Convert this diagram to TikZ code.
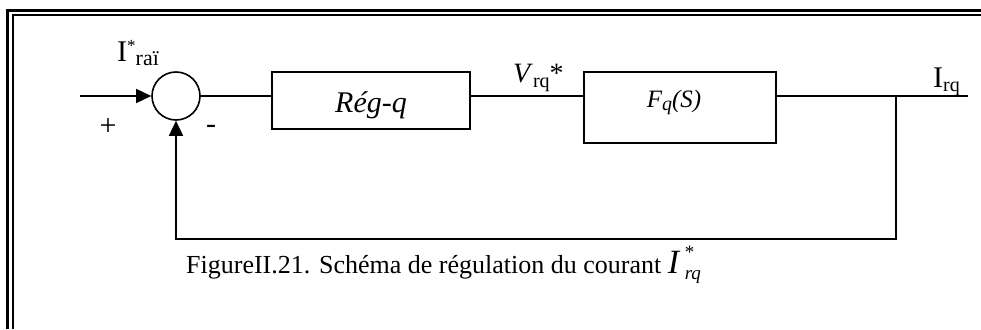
\documentclass[tikz,border=0pt]{standalone}
\usepackage{fontspec}
\setmainfont{Liberation Serif}
\usetikzlibrary{arrows.meta, positioning, calc}

\begin{document}
\begin{tikzpicture}[
  x=1pt, y=-1pt,
  bloc/.style = {rectangle, draw=black, line width=1.6pt, inner sep=0pt},
  somme/.style = {circle, draw=black, line width=1.6pt, minimum size=48pt, inner sep=0pt},
  trait/.style = {line width=1.6pt},
  fleche/.style = {-{Triangle[length=15pt, width=14pt]}, line width=1.6pt},
  lbl/.style = {inner sep=0pt, font=\fontsize{30}{36}\selectfont}
]
  \useasboundingbox (0,0) rectangle (981,329);

  % Cadre double
  \draw[line width=3pt] (7,329) -- (7,10.5) -- (981,10.5);
  \draw[line width=2pt] (12.5,329) -- (12.5,15) -- (981,15);

  % Comparateur et blocs
  \node[somme] (sum) at (176,96) {};
  \node[bloc, minimum width=198pt, minimum height=57pt] (reg) at (371,100.5) {};
  \node[bloc, minimum width=192pt, minimum height=71pt] (fq) at (680,107.5) {};

  % Textes des blocs
  \node[lbl, anchor=base, font=\fontsize{30}{36}\selectfont\itshape] (regtxt) at (371,112) {Rég-q};
  \node[lbl, anchor=base, font=\fontsize{25}{30}\selectfont\itshape] (fqtxt) at (674,107)
    {F\raisebox{-3pt}{\fontsize{20}{24}\selectfont q}(S)};

  % Signaux
  \node[lbl, anchor=base west] (iref) at (117,62)
    {I\raisebox{10pt}{\fontsize{17}{20}\selectfont *}\raisebox{-4pt}{\fontsize{22}{26}\selectfont raï}};
  \node[lbl, anchor=base west, font=\fontsize{28}{34}\selectfont] (vref) at (513,82)
    {\textit{V}\raisebox{-5pt}{\fontsize{20}{24}\selectfont rq}*};
  \node[lbl, anchor=base west] (irq) at (933,87)
    {I\raisebox{-4pt}{\fontsize{20}{24}\selectfont rq}};
  \node[lbl, anchor=base] (plus) at (108,135) {+};
  \node[lbl, anchor=base] (moins) at (211,133) {-};

  % Liaisons
  \coordinate (entree) at (80,96);
  \coordinate (sortie) at (968,96);
  \coordinate (branche) at (896,96);
  \draw[fleche] (entree) -- (sum.west);
  \draw[trait] (sum.east) -- (sum.east -| reg.west);
  \draw[trait] (sum.east -| reg.east) -- (sum.east -| fq.west);
  \draw[trait] (sum.east -| fq.east) -- (sortie);
  \draw[fleche] (branche) -- ++(0,143) -| (sum.south);

  % Legende
  \node[anchor=base west, inner sep=0pt, font=\fontsize{26}{32}\selectfont] (titre) at (186,273)
    {FigureII.21. Schéma de régulation du courant {\fontsize{34}{40}\selectfont\itshape I\,}\rlap{\raisebox{15pt}{\fontsize{19}{22}\selectfont *}}\raisebox{-6pt}{\fontsize{19}{22}\selectfont\itshape rq}};
\end{tikzpicture}
\end{document}
